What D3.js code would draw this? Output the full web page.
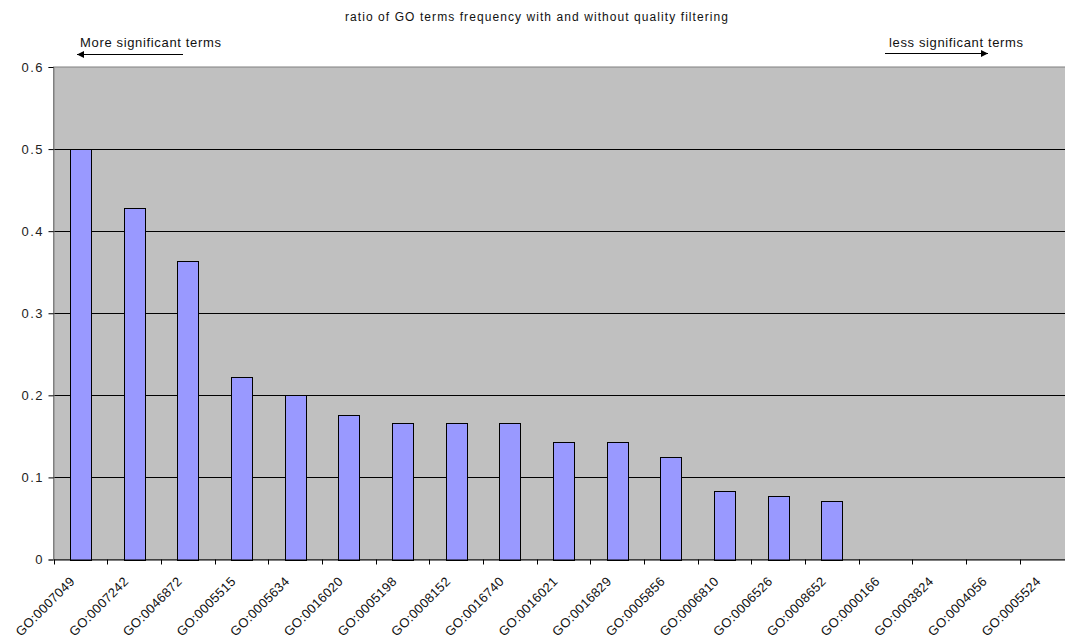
<!DOCTYPE html>
<html><head><meta charset="utf-8">
<script src="https://cdn.jsdelivr.net/npm/d3@7"></script>
<style>body{margin:0;background:#fff}svg{display:block;font-family:"Liberation Sans",Arial,sans-serif}</style>
</head><body>
<script>
const categories = ["GO:0007049","GO:0007242","GO:0046872","GO:0005515","GO:0005634","GO:0016020","GO:0005198","GO:0008152","GO:0016740","GO:0016021","GO:0016829","GO:0005856","GO:0006810","GO:0006526","GO:0008652","GO:0000166","GO:0003824","GO:0004056","GO:0005524"];
const values = [0.5,0.4286,0.3636,0.2222,0.2,0.1765,0.1667,0.1667,0.1667,0.1429,0.1429,0.125,0.0833,0.0769,0.0714,0,0,0,0];
const yTicks = [0,0.1,0.2,0.3,0.4,0.5,0.6];
const yTickLabels = ["0","0.1","0.2","0.3","0.4","0.5","0.6"];
const title = "ratio of GO terms frequency with and without quality filtering";

const W = 1065, H = 641;
const pLeft = 53.5, pTop = 67, pBottom = 559.5, pRight = pLeft + 19*53.67;
const svg = d3.select("body").append("svg").attr("width", W).attr("height", H);
const defs = svg.append("defs");
defs.append("marker").attr("id","ah").attr("viewBox","0 0 10 10").attr("refX",10).attr("refY",5)
  .attr("markerWidth",10).attr("markerHeight",7).attr("markerUnits","userSpaceOnUse").attr("orient","auto")
  .append("path").attr("d","M0,0 L10,5 L0,10 Z").attr("fill","#000");

const xb = d3.scaleBand().domain(categories).range([pLeft, pRight]);
const y = d3.scaleLinear().domain([0, 0.6]).range([pBottom, pTop]);

svg.append("rect").attr("x", pLeft).attr("y", pTop).attr("width", pRight-pLeft).attr("height", pBottom-pTop)
  .attr("fill", "#c0c0c0").attr("stroke", "#808080").attr("stroke-width", 1);

svg.append("g").selectAll("line").data(yTicks.filter(d => d > 0 && d < 0.6)).join("line")
  .attr("x1", pLeft).attr("x2", pRight).attr("y1", d => Math.round(y(d))+0.5).attr("y2", d => Math.round(y(d))+0.5)
  .attr("stroke", "#000").attr("stroke-width", 1);

svg.append("g").selectAll("rect").data(values).join("rect")
  .attr("x", (d,i) => Math.round(xb(categories[i]) + xb.bandwidth()/2 - 10.5) + 0.5)
  .attr("width", 21)
  .attr("y", d => Math.round(y(d)) + 0.5)
  .attr("height", d => Math.max(0, Math.round(pBottom) - Math.round(y(d))))
  .attr("fill", d => d > 0 ? "#9999ff" : "none")
  .attr("stroke", d => d > 0 ? "#000" : "none").attr("stroke-width", 1);

// y axis
const yAxis = d3.axisLeft(y).tickValues(yTicks).tickFormat((d,i) => yTickLabels[i]).tickSize(5).tickPadding(6);
const gy = svg.append("g").attr("transform", `translate(${pLeft},0)`).call(yAxis);
gy.select(".domain").attr("stroke", "#808080");
gy.selectAll(".tick line").attr("stroke", "#000");
gy.selectAll("text").attr("font-size", 13).attr("fill", "#222").attr("font-family", "Liberation Sans, Arial, sans-serif")
  .each(function(d,i){ if (yTickLabels[i].length > 1) d3.select(this).attr("textLength", 21).attr("lengthAdjust","spacing"); });

// x axis
const xAxis = d3.axisBottom(xb).tickSize(0).tickFormat(d => d);
const gx = svg.append("g").attr("transform", `translate(0,${pBottom})`).call(xAxis);
gx.select(".domain").attr("stroke", "#000");
gx.selectAll(".tick text").attr("font-size", 13).attr("fill", "#111").attr("font-family", "Liberation Sans, Arial, sans-serif")
  .attr("text-anchor", "end").attr("dy", 0).attr("dx", 0).attr("y", 0)
  .attr("textLength", 77).attr("lengthAdjust", "spacing")
  .attr("transform", "translate(-5,23) rotate(-45)");
// boundary ticks
svg.append("g").selectAll("line").data(d3.range(categories.length + 1)).join("line")
  .attr("x1", i => Math.round(pLeft + i*xb.step()) + 0.5).attr("x2", i => Math.round(pLeft + i*xb.step()) + 0.5)
  .attr("y1", pBottom).attr("y2", pBottom + 5).attr("stroke", "#000");

// title
svg.append("text").attr("x", 536.5).attr("y", 21).attr("text-anchor", "middle")
  .attr("font-size", 12).attr("fill", "#111").attr("textLength", 383).attr("lengthAdjust", "spacing").text(title);

// annotations
svg.append("text").attr("x", 80).attr("y", 47).attr("font-size", 13).attr("fill", "#111")
  .attr("textLength", 141).attr("lengthAdjust", "spacing").text("More significant terms");
svg.append("line").attr("x1", 183).attr("x2", 77).attr("y1", 54.5).attr("y2", 54.5).attr("stroke", "#000").attr("marker-end", "url(#ah)");
svg.append("text").attr("x", 889).attr("y", 47).attr("font-size", 13).attr("fill", "#111")
  .attr("textLength", 134).attr("lengthAdjust", "spacing").text("less significant terms");
svg.append("line").attr("x1", 885).attr("x2", 988).attr("y1", 53.5).attr("y2", 53.5).attr("stroke", "#000").attr("marker-end", "url(#ah)");
</script>
</body></html>
